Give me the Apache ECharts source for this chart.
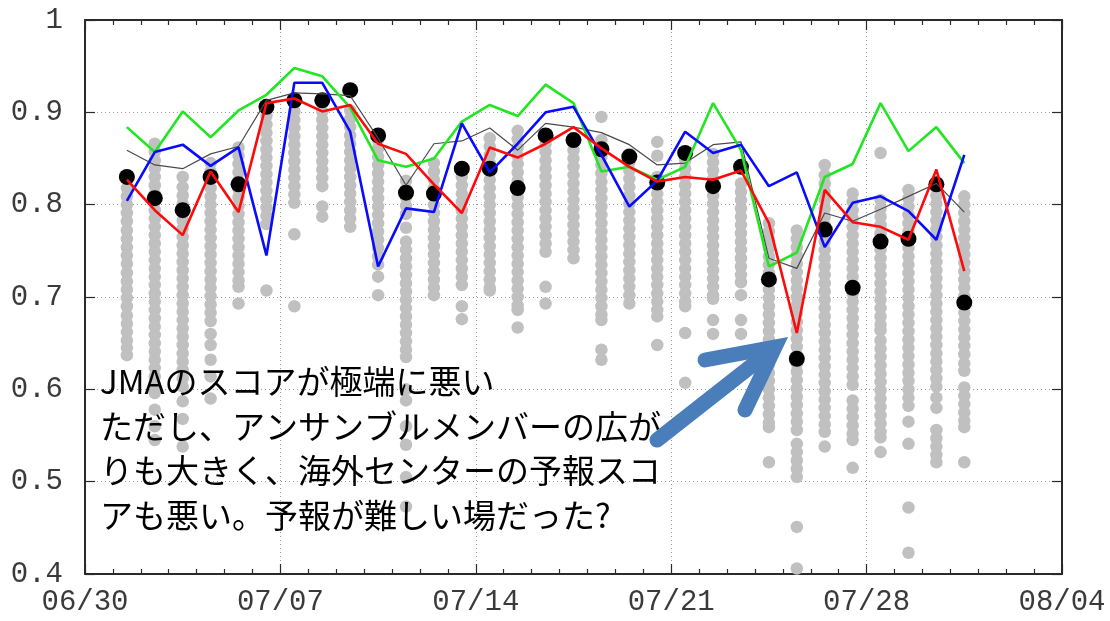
<!DOCTYPE html>
<html>
<head>
<meta charset="utf-8">
<script src="https://cdn.jsdelivr.net/npm/echarts@6/dist/echarts.min.js"></script>
<style>
  html, body { margin: 0; padding: 0; background: #fff; }
  #chart { width: 1110px; height: 621px; }
</style>
</head>
<body>
<div id="chart"></div>
<script>
// Verification dates (12 UTC) and daily scores
const dates = ['07/01','07/02','07/03','07/04','07/05','07/06','07/07','07/08','07/09','07/10',
               '07/11','07/12','07/13','07/14','07/15','07/16','07/17','07/18','07/19','07/20',
               '07/21','07/22','07/23','07/24','07/25','07/26','07/27','07/28','07/29','07/30','07/31'];
const verifyHourUTC = 12;
const axisStartDate = '06/30';

const xTickLabels = ['06/30','07/07','07/14','07/21','07/28','08/04'];
const yTickLabels = ['0.4','0.5','0.6','0.7','0.8','0.9','1'];

// JMA deterministic score (red)
const jmaScore = [0.827,0.794,0.767,0.836,0.792,0.910,0.915,0.901,0.908,0.866,
                  0.855,0.822,0.791,0.862,0.851,0.866,0.884,0.861,0.841,0.825,
                  0.830,0.827,0.837,0.780,0.661,0.816,0.781,0.776,0.762,0.838,0.728];
// overseas centre A (green)
const centerAScore = [0.884,0.857,0.901,0.873,0.902,0.919,0.948,0.939,0.905,0.848,
                      0.841,0.850,0.890,0.908,0.896,0.930,0.910,0.836,0.841,0.827,
                      0.841,0.910,0.859,0.733,0.748,0.830,0.844,0.910,0.858,0.884,0.845];
// overseas centre B (blue)
const centerBScore = [0.804,0.857,0.865,0.842,0.862,0.745,0.932,0.932,0.879,0.733,
                      0.796,0.792,0.888,0.835,0.866,0.900,0.906,0.854,0.798,0.826,
                      0.879,0.856,0.865,0.820,0.835,0.754,0.802,0.809,0.793,0.762,0.854];
// multi-centre average (thin grey)
const centerAverage = [0.859,0.843,0.839,0.855,0.863,0.913,0.921,0.920,0.918,0.872,
                       0.821,0.866,0.869,0.883,0.859,0.888,0.884,0.878,0.865,0.843,
                       0.845,0.865,0.868,0.742,0.731,0.791,0.782,0.795,0.809,0.823,0.792];
// ensemble mean score (black dots)
const ensembleMean = [0.830,0.807,0.794,0.830,0.822,0.906,0.913,0.913,0.924,0.875,
                      0.813,0.812,0.839,0.839,0.818,0.875,0.870,0.860,0.852,0.824,
                      0.856,0.820,0.841,0.719,0.633,0.773,0.710,0.760,0.763,0.822,0.694];

// ensemble member scores, one list per verification date (grey dots)
const memberScores = [
  [0.818,0.809,0.800,0.791,0.782,0.772,0.763,0.754,0.745,0.736,0.726,0.717,0.708,0.699,0.690,0.680,0.671,0.662,0.653,0.645,0.637],
  [0.866,0.857,0.848,0.839,0.830,0.821,0.812,0.803,0.794,0.785,0.776,0.767,0.758,0.749,0.740,0.731,0.722,0.713,0.704,0.695,0.686,0.677,0.668,0.659,0.650,0.641,0.632,0.623,0.614,0.605,0.596,0.578,0.560,0.545],
  [0.830,0.819,0.810,0.801,0.792,0.783,0.774,0.765,0.756,0.747,0.738,0.729,0.720,0.711,0.702,0.693,0.684,0.675,0.666,0.657,0.648,0.639,0.630,0.621,0.612,0.603,0.587,0.568,0.538],
  [0.845,0.836,0.827,0.818,0.809,0.800,0.791,0.782,0.773,0.764,0.755,0.746,0.737,0.728,0.719,0.710,0.701,0.692,0.683,0.674,0.660,0.648,0.632,0.614,0.590],
  [0.862,0.853,0.844,0.835,0.826,0.817,0.808,0.799,0.790,0.781,0.772,0.763,0.754,0.745,0.736,0.727,0.718,0.711,0.693],
  [0.905,0.896,0.887,0.878,0.869,0.860,0.851,0.842,0.833,0.824,0.815,0.806,0.797,0.788,0.779,0.707],
  [0.910,0.901,0.892,0.883,0.874,0.865,0.856,0.847,0.838,0.829,0.820,0.811,0.802,0.768,0.690],
  [0.910,0.901,0.892,0.883,0.874,0.865,0.856,0.847,0.838,0.829,0.820,0.798,0.787],
  [0.902,0.893,0.884,0.875,0.866,0.857,0.848,0.839,0.830,0.821,0.812,0.803,0.794,0.785,0.776],
  [0.870,0.861,0.852,0.843,0.834,0.825,0.816,0.807,0.798,0.789,0.780,0.771,0.762,0.753,0.744,0.735,0.722,0.702],
  [0.826,0.817,0.808,0.799,0.790,0.775,0.760,0.751,0.742,0.733,0.724,0.715,0.706,0.697,0.688,0.679,0.670,0.661,0.652,0.643,0.635,0.600,0.588,0.560,0.540,0.505,0.473],
  [0.845,0.836,0.827,0.818,0.809,0.800,0.791,0.782,0.773,0.764,0.755,0.746,0.737,0.728,0.719,0.710,0.702],
  [0.830,0.821,0.812,0.803,0.794,0.785,0.776,0.767,0.758,0.749,0.740,0.731,0.722,0.713,0.690,0.676],
  [0.872,0.863,0.854,0.845,0.836,0.827,0.818,0.809,0.800,0.791,0.782,0.773,0.764,0.755,0.746,0.737,0.728,0.719,0.710,0.707],
  [0.880,0.871,0.862,0.853,0.844,0.835,0.826,0.817,0.808,0.799,0.790,0.781,0.772,0.763,0.754,0.745,0.736,0.727,0.718,0.709,0.700,0.691,0.686,0.667],
  [0.875,0.866,0.857,0.848,0.839,0.830,0.821,0.812,0.803,0.794,0.785,0.776,0.767,0.758,0.749,0.711,0.693],
  [0.868,0.859,0.850,0.841,0.832,0.823,0.814,0.805,0.796,0.787,0.778,0.769,0.760,0.751,0.742],
  [0.895,0.870,0.861,0.852,0.843,0.834,0.825,0.816,0.807,0.798,0.789,0.780,0.771,0.762,0.753,0.744,0.735,0.726,0.717,0.708,0.699,0.690,0.681,0.675,0.643,0.632],
  [0.855,0.846,0.837,0.828,0.819,0.810,0.801,0.792,0.783,0.774,0.765,0.756,0.747,0.738,0.729,0.720,0.711,0.702,0.693],
  [0.868,0.853,0.830,0.821,0.812,0.803,0.794,0.785,0.776,0.767,0.758,0.749,0.740,0.731,0.722,0.713,0.704,0.695,0.686,0.679,0.648],
  [0.848,0.839,0.830,0.821,0.812,0.803,0.794,0.785,0.776,0.767,0.758,0.749,0.740,0.731,0.722,0.713,0.704,0.695,0.690,0.661,0.607],
  [0.855,0.846,0.837,0.828,0.819,0.810,0.801,0.792,0.783,0.774,0.765,0.756,0.747,0.738,0.729,0.720,0.711,0.702,0.698,0.675,0.660],
  [0.823,0.814,0.805,0.796,0.787,0.778,0.769,0.760,0.751,0.742,0.733,0.724,0.716,0.702,0.675,0.660],
  [0.780,0.771,0.762,0.753,0.744,0.735,0.726,0.717,0.708,0.699,0.690,0.681,0.672,0.663,0.654,0.645,0.636,0.627,0.618,0.609,0.600,0.591,0.582,0.573,0.564,0.559,0.521],
  [0.772,0.763,0.754,0.745,0.736,0.727,0.718,0.709,0.700,0.691,0.682,0.673,0.664,0.655,0.646,0.637,0.628,0.619,0.610,0.601,0.592,0.583,0.574,0.565,0.556,0.541,0.532,0.523,0.514,0.505,0.451,0.406],
  [0.843,0.832,0.823,0.814,0.805,0.796,0.787,0.778,0.769,0.760,0.751,0.742,0.733,0.724,0.715,0.706,0.697,0.688,0.679,0.670,0.661,0.652,0.643,0.634,0.625,0.616,0.607,0.598,0.589,0.580,0.571,0.562,0.554,0.538],
  [0.812,0.803,0.794,0.785,0.776,0.767,0.758,0.749,0.740,0.731,0.722,0.713,0.704,0.695,0.686,0.677,0.668,0.659,0.650,0.641,0.632,0.623,0.614,0.605,0.588,0.579,0.570,0.561,0.552,0.545,0.515],
  [0.856,0.805,0.796,0.787,0.778,0.769,0.760,0.751,0.742,0.733,0.724,0.715,0.706,0.697,0.688,0.679,0.670,0.664,0.653,0.644,0.635,0.626,0.617,0.608,0.599,0.590,0.581,0.572,0.563,0.554,0.548,0.532],
  [0.816,0.807,0.798,0.789,0.780,0.771,0.762,0.753,0.744,0.735,0.726,0.717,0.708,0.699,0.690,0.681,0.672,0.663,0.654,0.645,0.636,0.627,0.618,0.609,0.600,0.591,0.582,0.565,0.541,0.472,0.423],
  [0.819,0.810,0.801,0.792,0.783,0.774,0.765,0.756,0.747,0.738,0.729,0.720,0.711,0.702,0.693,0.684,0.675,0.666,0.657,0.648,0.639,0.630,0.621,0.612,0.603,0.591,0.580,0.556,0.547,0.538,0.529,0.521],
  [0.809,0.800,0.791,0.782,0.773,0.764,0.755,0.746,0.737,0.728,0.719,0.710,0.701,0.692,0.683,0.674,0.665,0.656,0.647,0.638,0.628,0.620,0.602,0.593,0.584,0.575,0.566,0.559,0.521]
];

const annotationLines = [
  'JMAのスコアが極端に悪い',
  'ただし、アンサンブルメンバーの広が',
  'りも大きく、海外センターの予報スコ',
  'アも悪い。予報が難しい場だった?'
];

// days elapsed since the axis start date
function dayOffset(mmdd, hour) {
  const [m, d] = mmdd.split('/').map(Number);
  const [m0, d0] = axisStartDate.split('/').map(Number);
  return (Date.UTC(2000, m - 1, d, hour) - Date.UTC(2000, m0 - 1, d0)) / 86400000;
}
const xs = dates.map(d => dayOffset(d, verifyHourUTC));
const pairs = vals => vals.map((v, i) => [xs[i], v]);

const memberPoints = [];
memberScores.forEach((list, i) => list.forEach(v => memberPoints.push([xs[i], v])));

const chart = echarts.init(document.getElementById('chart'), null, { renderer: 'canvas' });

const frameLine = { show: true, onZero: false, lineStyle: { color: '#2a2a2a', width: 2 } };
const tickStyle = { color: '#2a2a2a', width: 1.2 };
const gridDots = { show: true, lineStyle: { color: '#9a9a9a', width: 1, type: [1, 3] } };
const labelFont = { fontFamily: 'Liberation Mono', fontSize: 29, color: '#3a3a3a' };

const xMax = dayOffset(xTickLabels[xTickLabels.length - 1], 0);

chart.setOption({
  animation: false,
  backgroundColor: '#ffffff',
  grid: { left: 85, right: 48, top: 20, bottom: 47, containLabel: false },
  xAxis: [
    {
      type: 'value', min: 0, max: xMax, interval: 7, position: 'bottom',
      axisLine: frameLine,
      axisTick: { show: true, inside: true, length: 10, lineStyle: tickStyle },
      minorTick: { show: true, splitNumber: 7, length: 5, lineStyle: tickStyle },
      splitLine: gridDots,
      axisLabel: Object.assign({ margin: 14, formatter: v => xTickLabels[Math.round(v / 7)] || '' }, labelFont)
    },
    {
      type: 'value', min: 0, max: xMax, interval: 7, position: 'top',
      axisLine: frameLine,
      axisTick: { show: true, inside: true, length: 10, lineStyle: tickStyle },
      minorTick: { show: true, splitNumber: 7, length: 5, lineStyle: tickStyle },
      splitLine: { show: false },
      axisLabel: { show: false }
    }
  ],
  yAxis: [
    {
      type: 'value', min: 0.4, max: 1, interval: 0.1, position: 'left',
      axisLine: frameLine,
      axisTick: { show: true, inside: true, length: 10, lineStyle: tickStyle },
      splitLine: gridDots,
      axisLabel: Object.assign({ margin: 22, formatter: v => yTickLabels[Math.round((v - 0.4) / 0.1)] || '' }, labelFont)
    },
    {
      type: 'value', min: 0.4, max: 1, interval: 0.1, position: 'right',
      axisLine: frameLine,
      axisTick: { show: true, inside: true, length: 10, lineStyle: tickStyle },
      splitLine: { show: false },
      axisLabel: { show: false }
    }
  ],
  series: [
    {
      name: 'members', type: 'scatter', data: memberPoints, symbolSize: 12.5,
      itemStyle: { color: '#c0c0c0', opacity: 1 }, silent: true, z: 2
    },
    {
      name: 'ensembleMean', type: 'scatter', data: pairs(ensembleMean), symbolSize: 16,
      itemStyle: { color: '#000000', opacity: 1 }, silent: true, z: 3
    },
    {
      name: 'centerAverage', type: 'line', data: pairs(centerAverage), symbol: 'none',
      lineStyle: { color: '#4a4a4a', width: 1.2 }, z: 4
    },
    {
      name: 'centerA', type: 'line', data: pairs(centerAScore), symbol: 'none',
      lineStyle: { color: '#22e622', width: 2.6 }, z: 5
    },
    {
      name: 'centerB', type: 'line', data: pairs(centerBScore), symbol: 'none',
      lineStyle: { color: '#0a0aff', width: 2.6 }, z: 6
    },
    {
      name: 'JMA', type: 'line', data: pairs(jmaScore), symbol: 'none',
      lineStyle: { color: '#ff0a0a', width: 2.6 }, z: 7
    }
  ],
  graphic: [
    ...annotationLines.map((t, i) => ({
      type: 'text', left: 100, top: 365 + i * 44.7, z: 100,
      style: { text: t, font: '33px "Noto Sans CJK JP"', fill: '#000000' }
    })),
    {
      type: 'polyline', z: 101,
      shape: { points: [[657, 440], [764, 356]] },
      style: { stroke: '#4a7ebb', lineWidth: 15, lineCap: 'round', fill: null }
    },
    {
      type: 'polyline', z: 101,
      shape: { points: [[705, 360], [775, 347], [745, 410]] },
      style: { stroke: '#4a7ebb', lineWidth: 15, lineCap: 'round', lineJoin: 'miter', fill: null }
    }
  ]
});
</script>
</body>
</html>
